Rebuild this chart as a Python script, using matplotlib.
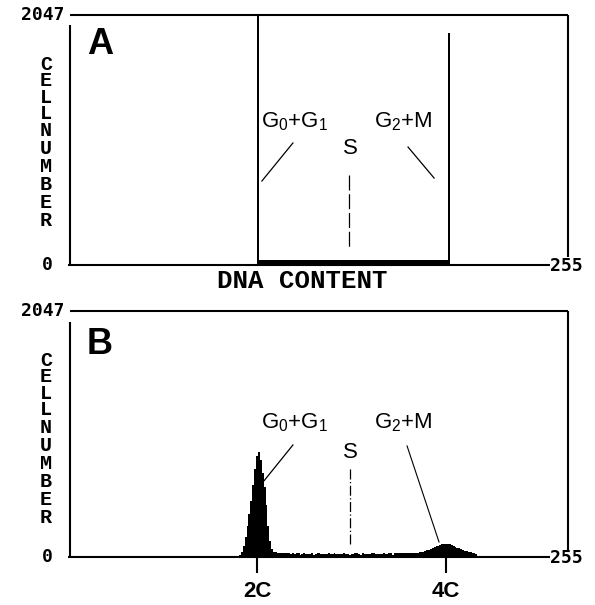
import numpy as np
import matplotlib
matplotlib.use('Agg')
import matplotlib.pyplot as plt

plt.rcParams['mathtext.fontset'] = 'custom'
plt.rcParams['mathtext.rm'] = 'Liberation Sans'
plt.rcParams['mathtext.it'] = 'Liberation Sans'
plt.rcParams['mathtext.bf'] = 'Liberation Sans:bold'

# ---------------- data ----------------
panel_letters = ['A', 'B']
y_top_label = '2047'
y_zero_label = '0'
x_end_label = '255'
y_max = 2047
x_end = 255

# Panel A: off-scale G0/G1 and G2/M edges, thin S-phase strip between
a_channels = [100, 101, 130, 160, 190, 201, 202]
a_counts = [2047, 45, 42, 44, 45, 1900, 0]

# Panel B: DNA histogram, one value per channel starting at b_start
b_start = 88
b_counts = [0, 5, 12, 20, 40, 95, 170, 260, 360, 470, 600, 730, 840, 875, 810,
            700, 580, 430, 260, 130, 65, 45, 38,
            36, 34, 33, 32, 31, 30, 31, 29, 30, 28, 30, 31, 18, 28, 30, 29, 27,
            29, 30, 18, 29, 30, 31, 29, 28, 27, 29, 30, 28, 29, 30, 28, 27, 29,
            28, 30, 29, 28, 18, 28, 29, 30, 31, 29, 18, 30, 29, 28, 27, 29, 30,
            31, 29, 28, 27, 29, 30, 28, 29, 31, 30, 18, 30, 31, 32, 30, 31, 32,
            33, 32, 34, 33, 35, 36, 37, 38, 40,
            42, 48, 55, 60, 66, 72, 80, 88, 95, 102, 106, 110, 112, 110, 105,
            100, 92, 85, 78, 72, 64, 58, 52, 48, 44, 40, 36, 32, 28, 0]

phase_labels = [r'G$_0$+G$_1$', 'S', r'G$_2$+M']
b_tick_channels = [100, 200]
b_tick_labels = ['2C', '4C']

# ---------------- layout ----------------
W, H = 595, 605
fig = plt.figure(figsize=(W / 100, H / 100), dpi=100)
px_per_ch = 1.89
x_right = 500 / px_per_ch

axA = fig.add_axes([68 / W, (H - 265) / H, 500 / W, 250 / H])
axB = fig.add_axes([68 / W, (H - 557) / H, 500 / W, 246 / H])

def to_data(ax, x, y):
    return ax.transData.inverted().transform((x, H - y))

mono = 'DejaVu Sans Mono'
cour = 'Liberation Mono'
sans = 'Liberation Sans'
lw_frame = 1.5

for ax in (axA, axB):
    ax.set_xlim(0, x_right)
    ax.set_ylim(0, y_max)
    for s in ax.spines.values():
        s.set_visible(False)
    ax.set_yticks([])
    ax.set_xticks([])

def frame(ax, left_top_px, right_bot_px, top_px, bot_px):
    kw = dict(color='black', lw=lw_frame, clip_on=False, solid_capstyle='butt')
    ax.plot([2 / px_per_ch, x_right], [y_max, y_max], **kw)
    _, lt = to_data(ax, 70, left_top_px)
    ax.plot([2 / px_per_ch, 2 / px_per_ch], [0, lt], **kw)
    ax.plot([0, x_end], [0, 0], **kw)
    _, rb = to_data(ax, 568, right_bot_px)
    ax.plot([x_right, x_right], [rb, y_max], **kw)
    x, y = to_data(ax, 65, top_px)
    ax.text(x, y, y_top_label, ha='right', va='center', family=mono,
            fontweight='bold', fontsize=13)
    x, y = to_data(ax, 47, bot_px)
    ax.text(x, y, y_zero_label, ha='center', va='center', family=mono,
            fontweight='bold', fontsize=13)
    x, y = to_data(ax, 550, bot_px + 1)
    ax.text(x, y, x_end_label, ha='left', va='center', family=mono,
            fontweight='bold', fontsize=13)

frame(axA, 25, 257, 15, 265)
frame(axB, 322, 550, 311, 557)

# CELL NUMBER vertical letters
for ax, cell_top, num_top in ((axA, 55, 121), (axB, 351, 418)):
    x, y = to_data(ax, 46, cell_top)
    ax.text(x, y, '\n'.join('CELL'), ha='center', va='top', family=cour,
            fontweight='bold', fontsize=14.5, linespacing=0.83, clip_on=False)
    x, y = to_data(ax, 46, num_top)
    ax.text(x, y, '\n'.join('NUMBER'), ha='center', va='top', family=cour,
            fontweight='bold', fontsize=14.5, linespacing=0.93, clip_on=False)

# Panel letters
for ax, (lx, ly), letter in ((axA, (100, 45), panel_letters[0]),
                             (axB, (100, 344), panel_letters[1])):
    x, y = to_data(ax, lx, ly)
    ax.text(x, y, letter, ha='center', va='center', family=sans,
            fontweight='bold', fontsize=26)

# DNA CONTENT
fig.text(302 / W, 1 - 281 / H, 'DNA CONTENT', ha='center', va='center',
         family=cour, fontweight='bold', fontsize=18.5)

# ---------------- histograms ----------------
axA.fill_between(a_channels, a_counts, step='post', color='black', lw=0)
b_ch = b_start + np.arange(len(b_counts))
axB.fill_between(b_ch, b_counts, step='mid', color='black', lw=0)

# ---------------- phase labels & pointers ----------------
lab_x = [295, 350, 403]
for ax, ylab, ys in ((axA, 122, 148), (axB, 423, 452)):
    for xp, lab, yy in zip(lab_x, phase_labels, (ylab, ys, ylab)):
        x, y = to_data(ax, xp, yy)
        ax.text(x, y, lab, ha='center', va='center', family=sans, fontsize=16)

# Panel A pointers (data coords)
axA.plot([119.0, 102.6], [999, 688], color='black', lw=0.9)
axA.plot([148.7, 148.7], [737, 147], color='black', lw=0.9, dashes=(12, 3))
axA.plot([179.9, 193.7], [966, 712], color='black', lw=0.9)
# Panel B pointers
axB.plot([119.0, 103.2], [932, 624], color='black', lw=0.9)
axB.plot([149.2, 149.2], [732, 100], color='black', lw=0.9,
         dashes=(8, 2, 1, 2))
axB.plot([179.4, 196.3], [924, 125], color='black', lw=0.8)

# 2C / 4C ticks
axB.set_xticks(b_tick_channels)
axB.set_xticklabels(b_tick_labels, family=sans, fontweight='bold', fontsize=16)
axB.tick_params(axis='x', length=11.5, width=1.5, pad=6, direction='out',
                color='black')

fig.savefig('out.png', dpi=100)
